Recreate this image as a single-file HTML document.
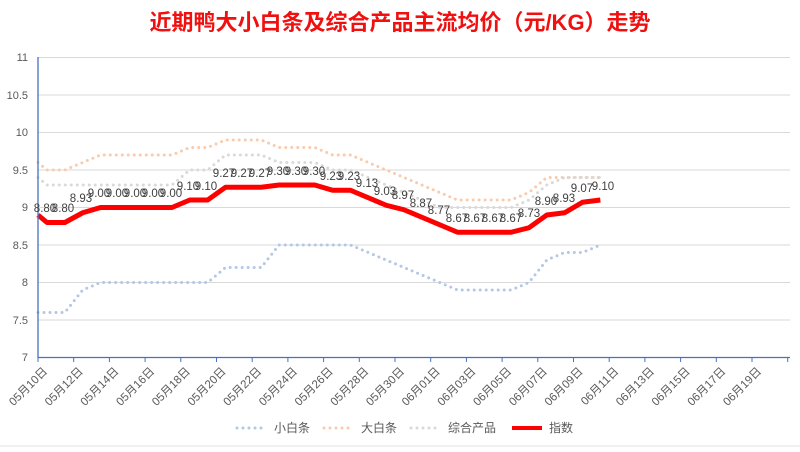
<!DOCTYPE html>
<html><head><meta charset="utf-8"><style>
body{margin:0;background:#fff}
svg text{font-family:"Liberation Sans","Noto Sans CJK SC",sans-serif}
</style></head><body>
<svg id="s" width="800" height="447" viewBox="0 0 800 447" xmlns="http://www.w3.org/2000/svg">
<rect width="800" height="447" fill="#fff"/>
<text x="400" y="30" text-anchor="middle" font-size="22" font-weight="bold" fill="#f01010">近期鸭大小白条及综合产品主流均价（元/KG）走势</text>
<g stroke="#d9d9d9" stroke-width="1">
<line x1="38" x2="790" y1="57.5" y2="57.5"/><line x1="38" x2="790" y1="95" y2="95"/><line x1="38" x2="790" y1="132.5" y2="132.5"/><line x1="38" x2="790" y1="170" y2="170"/><line x1="38" x2="790" y1="207.5" y2="207.5"/><line x1="38" x2="790" y1="245" y2="245"/><line x1="38" x2="790" y1="282.5" y2="282.5"/><line x1="38" x2="790" y1="320" y2="320"/>
</g>
<line x1="0" x2="800" y1="446" y2="446" stroke="#e0e0e0" stroke-width="1"/>
<g font-size="11" fill="#595959" text-anchor="end">
<text x="28" y="61">11</text><text x="28" y="99">10.5</text><text x="28" y="136">10</text><text x="28" y="174">9.5</text><text x="28" y="211">9</text><text x="28" y="249">8.5</text><text x="28" y="286">8</text><text x="28" y="324">7.5</text><text x="28" y="361">7</text>
</g>
<g id="series"></g>
<line x1="38" y1="57" x2="38" y2="358" stroke="#4472c4" stroke-width="1.3"/>
<line x1="38" y1="357.5" x2="790" y2="357.5" stroke="#4472c4" stroke-width="1.3"/>
<g id="ticks" stroke="#4472c4" stroke-width="1"></g>
<g font-size="11.5" fill="#595959" text-anchor="end">
<text transform="translate(48,372) rotate(-45)">05月10日</text>
<text transform="translate(83.7,372) rotate(-45)">05月12日</text>
<text transform="translate(119.4,372) rotate(-45)">05月14日</text>
<text transform="translate(155.1,372) rotate(-45)">05月16日</text>
<text transform="translate(190.8,372) rotate(-45)">05月18日</text>
<text transform="translate(226.5,372) rotate(-45)">05月20日</text>
<text transform="translate(262.2,372) rotate(-45)">05月22日</text>
<text transform="translate(297.9,372) rotate(-45)">05月24日</text>
<text transform="translate(333.6,372) rotate(-45)">05月26日</text>
<text transform="translate(369.3,372) rotate(-45)">05月28日</text>
<text transform="translate(405,372) rotate(-45)">05月30日</text>
<text transform="translate(440.7,372) rotate(-45)">06月01日</text>
<text transform="translate(476.4,372) rotate(-45)">06月03日</text>
<text transform="translate(512.1,372) rotate(-45)">06月05日</text>
<text transform="translate(547.8,372) rotate(-45)">06月07日</text>
<text transform="translate(583.5,372) rotate(-45)">06月09日</text>
<text transform="translate(619.2,372) rotate(-45)">06月11日</text>
<text transform="translate(654.9,372) rotate(-45)">06月13日</text>
<text transform="translate(690.6,372) rotate(-45)">06月15日</text>
<text transform="translate(726.3,372) rotate(-45)">06月17日</text>
<text transform="translate(762,372) rotate(-45)">06月19日</text>
</g>
<g font-size="11.5" fill="#404040" text-anchor="middle">
<text x="45" y="212">8.80</text><text x="63" y="212">8.80</text><text x="81" y="202">8.93</text>
<text x="99" y="197">9.00</text><text x="117" y="197">9.00</text><text x="135" y="197">9.00</text><text x="153" y="197">9.00</text><text x="171" y="197">9.00</text>
<text x="188" y="190">9.10</text><text x="206" y="190">9.10</text>
<text x="224" y="177">9.27</text><text x="242" y="177">9.27</text><text x="260" y="177">9.27</text>
<text x="278" y="175">9.30</text><text x="296" y="175">9.30</text><text x="314" y="175">9.30</text>
<text x="331" y="180">9.23</text><text x="349" y="180">9.23</text>
<text x="367" y="187">9.13</text><text x="385" y="195">9.03</text><text x="403" y="199">8.97</text><text x="421" y="207">8.87</text><text x="439" y="214">8.77</text>
<text x="457" y="222">8.67</text><text x="475" y="222">8.67</text><text x="493" y="222">8.67</text><text x="511" y="222">8.67</text>
<text x="529" y="217">8.73</text><text x="546" y="205">8.90</text><text x="564" y="202">8.93</text><text x="582" y="192">9.07</text><text x="603" y="190">9.10</text>
</g>
<g font-size="12" fill="#595959">
<line x1="237" y1="428" x2="267" y2="428" stroke="#b4c7e7" stroke-width="3" stroke-linecap="round" stroke-dasharray="0 6"/>
<text x="274" y="432">小白条</text>
<line x1="324" y1="428" x2="354" y2="428" stroke="#f8cbad" stroke-width="3" stroke-linecap="round" stroke-dasharray="0 6"/>
<text x="361" y="432">大白条</text>
<line x1="411" y1="428" x2="441" y2="428" stroke="#d9d9d9" stroke-width="3" stroke-linecap="round" stroke-dasharray="0 6"/>
<text x="448" y="432">综合产品</text>
<line x1="512" y1="428" x2="542" y2="428" stroke="#ff0000" stroke-width="4"/>
<text x="549" y="432">指数</text>
</g>
</svg>
<script>
var Y=function(v){return 357.5-(v-7)*75};
var X=function(i){return 47+17.85*i};
var small=[7.6,7.6,7.9,8.0,8.0,8.0,8.0,8.0,8.0,8.0,8.2,8.2,8.2,8.5,8.5,8.5,8.5,8.5,8.4,8.3,8.2,8.1,8.0,7.9,7.9,7.9,7.9,8.0,8.3,8.4,8.4,8.5];
var large=[9.5,9.5,9.6,9.7,9.7,9.7,9.7,9.7,9.8,9.8,9.9,9.9,9.9,9.8,9.8,9.8,9.7,9.7,9.6,9.5,9.4,9.3,9.2,9.1,9.1,9.1,9.1,9.2,9.4,9.4,9.4,9.4];
var comp=[9.3,9.3,9.3,9.3,9.3,9.3,9.3,9.3,9.5,9.5,9.7,9.7,9.7,9.6,9.6,9.6,9.5,9.5,9.4,9.3,9.2,9.1,9.0,9.0,9.0,9.0,9.0,9.1,9.3,9.4,9.4,9.4];
var idx=[8.80,8.80,8.93,9,9,9,9,9,9.10,9.10,9.27,9.27,9.27,9.30,9.30,9.30,9.23,9.23,9.13,9.03,8.97,8.87,8.77,8.67,8.67,8.67,8.67,8.73,8.90,8.93,9.07,9.10];
function pts(a,p){var s="38,"+Y(p);for(var i=0;i<a.length;i++)s+=" "+X(i)+","+Y(a[i]);return s;}
var g=document.getElementById("series"),h="";
h+='<polyline fill="none" stroke="#b4c7e7" stroke-width="3" stroke-linecap="round" stroke-dasharray="0 6" points="'+pts(small,7.6)+'"/>';
h+='<polyline fill="none" stroke="#f8cbad" stroke-width="3" stroke-linecap="round" stroke-dasharray="0 6" points="'+pts(large,9.6)+'"/>';
h+='<polyline fill="none" stroke="#d9d9d9" stroke-width="3" stroke-linecap="round" stroke-dasharray="0 6" points="'+pts(comp,9.4)+'"/>';
h+='<polyline fill="none" stroke="#ff0000" stroke-width="5" stroke-linejoin="round" points="'+pts(idx,8.9)+'"/>';
g.innerHTML=h;
var t="";for(var k=0;k<=21;k++){var x=38+35.7*k;t+='<line x1="'+x+'" x2="'+x+'" y1="357" y2="362"/>';}
document.getElementById("ticks").innerHTML=t;
</script>
</body></html>
